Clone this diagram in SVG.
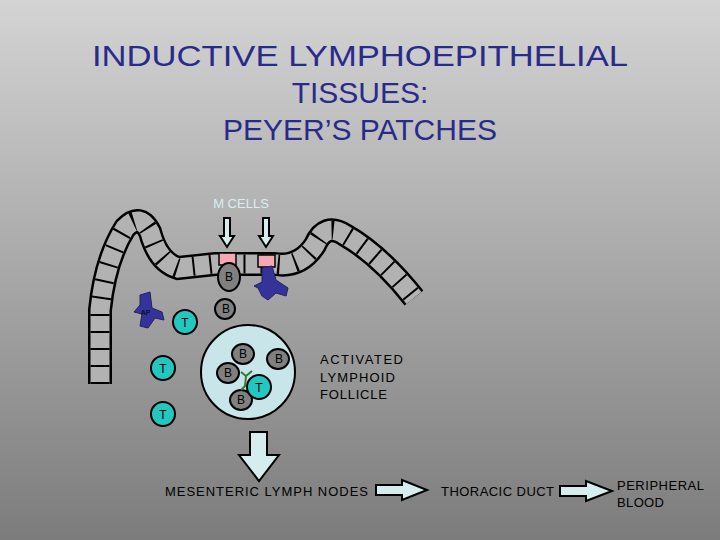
<svg xmlns="http://www.w3.org/2000/svg" width="720" height="540" viewBox="0 0 720 540">
<defs>
<linearGradient id="bg" x1="0" y1="0" x2="0" y2="1"><stop offset="0" stop-color="#d4d4d4"/><stop offset="1" stop-color="#7c7c7c"/></linearGradient>
<style>
text{font-family:"Liberation Sans",Arial,sans-serif}
.t{font-size:30px;fill:#2a2a8a;text-anchor:middle}
.l{font-size:13px;fill:#000}
.b{fill:#808080;stroke:#000;stroke-width:2}
.tc{fill:#22c8c0;stroke:#000;stroke-width:2}
.m{fill:#333399;stroke:#222266;stroke-width:1}
.ar{fill:#d4eef0;stroke:#000;stroke-width:2}
.c{font-size:12px;text-anchor:middle;fill:#000}
</style>
</defs>
<rect width="720" height="540" fill="url(#bg)"/>
<g id="title">
<text class="t" x="360" y="66" textLength="536" lengthAdjust="spacingAndGlyphs">INDUCTIVE LYMPHOEPITHELIAL</text>
<text class="t" x="360" y="103">TISSUES:</text>
<text class="t" x="360" y="140">PEYER’S PATCHES</text>
</g>
<g id="epithelium">
<path d="M100,384 L100,310 Q105,260 125,228 Q140,212 150,232 Q158,262 178,268 L215,264 L275,264 Q300,268 315,245 Q325,222 345,235 Q380,255 414,298" fill="none" stroke="#000" stroke-width="24"/>
<path d="M100,384 L100,310 Q105,260 125,228 Q140,212 150,232 Q158,262 178,268 L215,264 L275,264 Q300,268 315,245 Q325,222 345,235 Q380,255 414,298" fill="none" stroke="#b2b2b2" stroke-width="19"/>
<path d="M100,384 L100,310 Q105,260 125,228 Q140,212 150,232 Q158,262 178,268 L215,264 L275,264 Q300,268 315,245 Q325,222 345,235 Q380,255 414,298" fill="none" stroke="#000" stroke-width="19" stroke-dasharray="2 15"/>
<rect x="219" y="253" width="17" height="12" fill="#f4a8b4" stroke="#000" stroke-width="1.5"/>
<rect x="258" y="255" width="17" height="12" fill="#f4a8b4" stroke="#000" stroke-width="1.5"/>
</g>
<g id="mcells">
<text x="241" y="208" font-size="13" fill="#d8eef0" text-anchor="middle">M CELLS</text>
<path class="ar" d="M224,218 h6 v18 h4 l-7,11 l-7,-11 h4z"/>
<path class="ar" d="M263,218 h6 v18 h4 l-7,11 l-7,-11 h4z"/>
</g>
<g id="cells">
<ellipse class="b" cx="229" cy="277" rx="11" ry="14"/><text class="c" x="229" y="281">B</text>
<circle class="b" cx="225" cy="309" r="10"/><text class="c" x="226" y="313">B</text>
<path class="m" d="M262,268 L272,266 L276,280 L288,288 L286,296 L276,293 L268,300 L262,296 L258,288 L254,286 L262,282z"/>
<path class="m" d="M140,295 L150,292 L152,308 L162,312 L164,320 L155,318 L148,328 L140,326 L142,314 L134,312 L140,305z"/>
<text x="141" y="315" font-size="7" fill="#000">AP</text>
<circle class="tc" cx="185" cy="322" r="12"/><text class="c" x="185" y="327">T</text>
<circle class="tc" cx="163" cy="368" r="12"/><text class="c" x="163" y="373">T</text>
<circle class="tc" cx="163" cy="414" r="12"/><text class="c" x="163" y="419">T</text>
</g>
<g id="follicle">
<circle cx="248" cy="372" r="47" fill="#c8e6ea" stroke="#000" stroke-width="2"/>
<ellipse class="b" cx="243" cy="354" rx="11" ry="10"/><text class="c" x="243" y="358">B</text>
<ellipse class="b" cx="278" cy="359" rx="11" ry="10"/><text class="c" x="279" y="363">B</text>
<ellipse class="b" cx="228" cy="373" rx="11" ry="10"/><text class="c" x="228" y="377">B</text>
<ellipse class="b" cx="241" cy="400" rx="11" ry="10"/><text class="c" x="241" y="404">B</text>
<path d="M241,372 L246,376 L252,371 M246,376 L245,386 L241,390" fill="none" stroke="#2e7d32" stroke-width="2"/>
<circle class="tc" cx="259" cy="387" r="12"/><text class="c" x="259" y="392">T</text>
<text class="l" x="320" y="364" textLength="83">ACTIVATED</text>
<text class="l" x="320" y="382" textLength="75">LYMPHOID</text>
<text class="l" x="320" y="399" textLength="67">FOLLICLE</text>
</g>
<g id="connectors">
<path class="ar" d="M250,432 h17 v23 h12 l-20,26 l-20,-26 h11z"/>
<path class="ar" d="M376,485 h26 v-5 l25,10 l-25,10 v-5 h-26z"/>
<path class="ar" d="M560,486 h26 v-5 l26,10 l-26,10 v-5 h-26z"/>
</g>
<g id="labels">
<text class="l" x="165" y="496" textLength="203">MESENTERIC LYMPH NODES</text>
<text class="l" x="441" y="496" textLength="113">THORACIC DUCT</text>
<text class="l" x="617" y="490" textLength="87">PERIPHERAL</text>
<text class="l" x="617" y="507" textLength="47">BLOOD</text>
</g>
</svg>
